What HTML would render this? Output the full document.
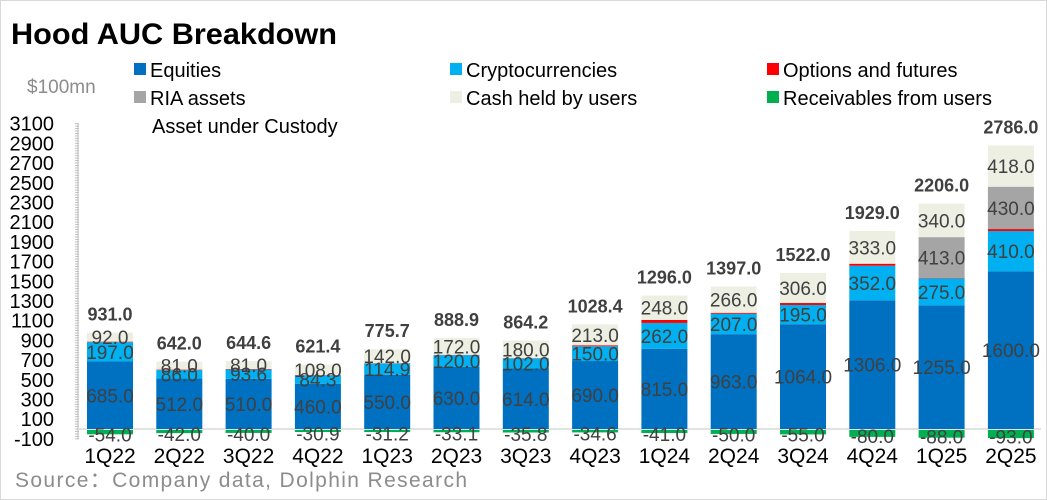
<!DOCTYPE html>
<html><head><meta charset="utf-8">
<style>
html,body{margin:0;padding:0;background:#fff;}
#wrap{position:relative;width:1045px;height:498px;border:1px solid #d9d9d9;overflow:hidden;}
svg{position:absolute;left:0;top:0;font-family:"Liberation Sans",sans-serif;}
</style></head>
<body>
<div id="wrap">
<svg id="chart" width="1047" height="500">
  <text x="10" y="43" font-size="30" font-weight="bold" fill="#000" textLength="326" lengthAdjust="spacingAndGlyphs">Hood AUC Breakdown</text>
  <text x="26" y="92" font-size="19" fill="#8c8c8c">$100mn</text>
  <text x="151" y="132" font-size="20" fill="#000">Asset under Custody</text>
  <text x="14" y="486" font-size="21" fill="#8c8c8c" textLength="452" lengthAdjust="spacing">Source：Company data, Dolphin Research</text>
  <g id="legend"></g>
  <g id="axis"></g>
  <g id="bars"></g>
</svg>
</div>
<script>
const categories=["1Q22","2Q22","3Q22","4Q22","1Q23","2Q23","3Q23","4Q23","1Q24","2Q24","3Q24","4Q24","1Q25","2Q25"];
const equities=[685,512,510,460,550,630,614,690,815,963,1064,1306,1255,1600];
const crypto=[197,86,93.6,84.3,114.9,120,102,150,262,207,195,352,275,410];
const options=[5,5,5,3,3,3,3,10,30,10,20,20,5,20];
const ria=[0,0,0,0,0,0,0,0,0,0,0,0,413,430];
const cash=[92,81,81,108,142,172,180,213,248,266,306,333,340,418];
const receivables=[-54,-42,-40,-30.9,-31.2,-33.1,-35.8,-34.6,-41,-50,-55,-80,-88,-93];
const totals=[931,642,644.6,621.4,775.7,888.9,864.2,1028.4,1296,1397,1522,1929,2206,2786];
const yTicks=[-100,100,300,500,700,900,1100,1300,1500,1700,1900,2100,2300,2500,2700,2900,3100];

const NS="http://www.w3.org/2000/svg";
const y=v=>428-v*0.0985;
const xb=i=>86+i*69.3;
const BW=46;
function mk(tag,attrs,parent){const e=document.createElementNS(NS,tag);for(const k in attrs)e.setAttribute(k,attrs[k]);parent.appendChild(e);return e;}
const axis=document.getElementById('axis'),bars=document.getElementById('bars'),legend=document.getElementById('legend');

yTicks.forEach(t=>{
  const tx=mk('text',{x:53,y:y(t)+7,'font-size':20,'text-anchor':'end',fill:'#000'},axis);
  tx.textContent=t;
  
  
});
mk('line',{x1:77,y1:y(3100),x2:77,y2:y(-100),stroke:'#bfbfbf','stroke-width':1},axis);
for(let v=-100;v<=3100;v+=25){mk('line',{x1:74,y1:y(v),x2:78,y2:y(v),stroke:'#bfbfbf','stroke-width':1},axis);}
const base=mk('line',{x1:77,y1:y(0),x2:1040,y2:y(0),stroke:'#d9d9d9','stroke-width':1.5},axis);



const series=[
 {name:'equities',vals:equities,color:'#0070c0',lab:true},
 {name:'crypto',vals:crypto,color:'#00b0f0',lab:true},
 {name:'options',vals:options,color:'#ff0000',lab:false},
 {name:'ria',vals:ria,color:'#a5a5a5',lab:true},
 {name:'cash',vals:cash,color:'#eeefe3',lab:true}
];
categories.forEach((c,i)=>{
  let cum=0;
  const labels=[];
  series.forEach(s=>{
    const v=s.vals[i]; if(v<=0)return;
    const r=mk('rect',{x:xb(i),y:y(cum+v),width:BW,height:y(cum)-y(cum+v),fill:s.color},bars);
    
    
    if(s.lab) labels.push([v,(y(cum)+y(cum+v))/2]);
    cum+=v;
  });
  const rv=receivables[i];
  const rr=mk('rect',{x:xb(i),y:y(0)+1,width:BW,height:y(rv)-y(0)-1,fill:'#00b050'},bars);
  
  
  labels.push([rv,(y(0)+y(rv))/2+3]);
  labels.forEach(([v,cy])=>{
    const t=mk('text',{x:xb(i)+BW/2,y:cy+7,'font-size':19,'text-anchor':'middle',fill:'#404040'},bars);
    t.textContent=v.toFixed(1);
    
    
  });
  const tt=mk('text',{x:xb(i)+BW/2,y:y(cum)-12,'font-size':18,'font-weight':'bold','text-anchor':'middle',fill:'#404040'},bars);
  tt.textContent=totals[i].toFixed(1);
  
  
  const xl=mk('text',{x:xb(i)+BW/2,y:462,'font-size':21,'text-anchor':'middle',fill:'#000'},bars);
  xl.textContent=c;
  
  
});

const legendItems=[["Equities","#0070c0",133,69],["Cryptocurrencies","#00b0f0",449,69],["Options and futures","#ff0000",766,69],
["RIA assets","#a5a5a5",133,97],["Cash held by users","#eeefe3",449,97],["Receivables from users","#00b050",766,97]];
legendItems.forEach(([n,c,lx,ly])=>{
  const g=mk('g',{},legend);
  
  
  mk('rect',{x:lx,y:ly-7,width:12,height:12,fill:c},g);
  const t=mk('text',{x:lx+16,y:ly+7,'font-size':20,fill:'#000'},g);
  t.textContent=n;
});
</script>
</body></html>
